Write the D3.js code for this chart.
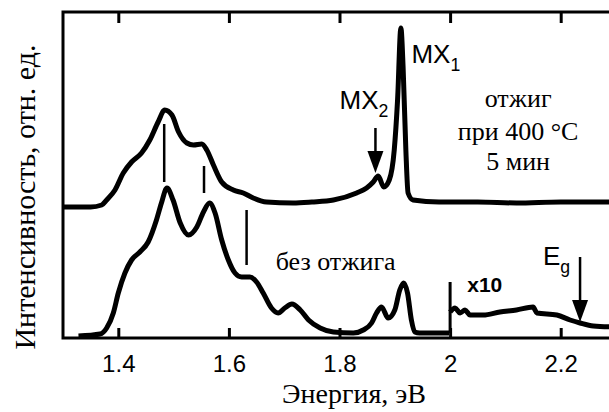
<!DOCTYPE html>
<html>
<head>
<meta charset="utf-8">
<script src="https://cdn.jsdelivr.net/npm/d3@7"></script>
<style>
  body { margin: 0; background: #fff; }
  svg { display: block; }
</style>
</head>
<body>
<div id="chart"></div>
<script>
// энергия (эВ) / интенсивность (отн. ед., со сдвигом для верхней кривой)
const annealed = [
  [1.30, 1.31], [1.35, 1.31], [1.37, 1.33], [1.379, 1.38], [1.394, 1.48],
  [1.409, 1.65], [1.424, 1.76], [1.442, 1.85], [1.457, 1.98], [1.472, 2.16],
  [1.484, 2.28], [1.497, 2.23], [1.509, 2.06], [1.524, 1.95], [1.536, 1.93],
  [1.551, 1.94], [1.560, 1.88], [1.572, 1.73], [1.587, 1.56], [1.608, 1.48],
  [1.626, 1.45], [1.644, 1.40], [1.668, 1.36], [1.716, 1.35], [1.75, 1.36],
  [1.789, 1.38], [1.831, 1.45], [1.849, 1.50], [1.861, 1.56], [1.870, 1.62],
  [1.880, 1.51], [1.890, 1.58], [1.899, 1.88], [1.905, 2.38], [1.911, 3.10],
  [1.915, 2.71], [1.920, 1.88], [1.924, 1.45], [1.933, 1.38], [1.98, 1.36],
  [2.05, 1.36], [2.12, 1.35], [2.20, 1.36], [2.30, 1.36]
];

const unannealed = [
  [1.328, 0.02], [1.367, 0.04], [1.379, 0.10], [1.391, 0.25], [1.400, 0.45],
  [1.412, 0.65], [1.424, 0.78], [1.439, 0.86], [1.454, 0.96], [1.469, 1.18],
  [1.478, 1.35], [1.488, 1.50], [1.499, 1.38], [1.512, 1.15], [1.527, 1.03],
  [1.542, 1.11], [1.554, 1.26], [1.565, 1.35], [1.575, 1.25], [1.587, 0.98],
  [1.599, 0.78], [1.611, 0.65], [1.623, 0.61], [1.638, 0.61], [1.650, 0.56],
  [1.662, 0.45], [1.677, 0.30], [1.689, 0.25], [1.701, 0.30], [1.714, 0.34],
  [1.729, 0.28], [1.744, 0.18], [1.765, 0.10], [1.789, 0.06], [1.825, 0.05],
  [1.843, 0.08], [1.858, 0.15], [1.867, 0.25], [1.876, 0.31], [1.888, 0.20],
  [1.900, 0.28], [1.909, 0.48], [1.916, 0.55], [1.923, 0.45], [1.930, 0.18],
  [1.936, 0.06], [1.945, 0.05], [1.998, 0.05]
];

// участок x10
const unannealedX10 = [
  [2.000, 0.26], [2.009, 0.30], [2.018, 0.25], [2.027, 0.28], [2.036, 0.23],
  [2.060, 0.23], [2.090, 0.26], [2.120, 0.28], [2.150, 0.31], [2.157, 0.25],
  [2.193, 0.23], [2.217, 0.18], [2.235, 0.15], [2.259, 0.12], [2.300, 0.11]
];

const xTicks = [1.4, 1.6, 1.8, 2.0, 2.2];
const markers = [[1.483, 2.14, 1.56], [1.555, 1.72, 1.45], [1.632, 1.28, 0.73]];
const arrows = [
  { e: 1.865, from: 2.10, to: 1.65 },
  { e: 2.235, from: 0.81, to: 0.16 }
];

const sans = "'Liberation Sans', Arial, sans-serif";
const serif = "'Liberation Serif', 'Times New Roman', Times, 'DejaVu Serif', serif";

const width = 609, height = 412;
const svg = d3.select("#chart").append("svg")
  .attr("width", width).attr("height", height);

const x = d3.scaleLinear().domain([1.3, 2.3]).range([63, 616]);
const y = d3.scaleLinear().domain([0, 3.26]).range([338, 12]);

const line = d3.line()
  .x(d => x(d[0])).y(d => y(d[1]))
  .curve(d3.curveMonotoneX);

// рамка
svg.append("rect")
  .attr("x", x(1.3)).attr("y", y(3.26))
  .attr("width", x(2.3) - x(1.3)).attr("height", y(0) - y(3.26))
  .attr("fill", "none").attr("stroke", "#000").attr("stroke-width", 3);

const xAxis = svg.append("g")
  .attr("transform", `translate(0,${y(0)})`)
  .call(d3.axisBottom(x).tickValues(xTicks).tickSizeInner(-10).tickSizeOuter(0)
    .tickPadding(17).tickFormat(d => d === 2 ? "2" : d3.format(".1f")(d)));
xAxis.select(".domain").remove();
xAxis.selectAll("line").attr("stroke-width", 3);
xAxis.selectAll("text")
  .style("font-family", sans)
  .style("font-size", "24px").attr("fill", "#000");

const xTop = svg.append("g")
  .attr("transform", `translate(0,${y(3.26)})`)
  .call(d3.axisTop(x).tickValues(xTicks).tickSizeInner(-11).tickSizeOuter(0).tickFormat(""));
xTop.select(".domain").remove();
xTop.selectAll("line").attr("stroke-width", 3);

// кривые
const curves = svg.append("g")
  .attr("fill", "none").attr("stroke", "#000")
  .attr("stroke-width", 5).attr("stroke-linejoin", "round");
curves.append("path").attr("d", line(annealed));
curves.append("path").attr("d", line(unannealed));
curves.append("path").attr("d", line(unannealedX10));

// разделитель x10
svg.append("line")
  .attr("x1", x(2.0)).attr("x2", x(2.0))
  .attr("y1", y(0.05)).attr("y2", y(0.56))
  .attr("stroke", "#000").attr("stroke-width", 3);

// вертикальные метки
svg.append("g").selectAll("line")
  .data(markers).join("line")
  .attr("x1", d => x(d[0])).attr("x2", d => x(d[0]))
  .attr("y1", d => y(d[1])).attr("y2", d => y(d[2]))
  .attr("stroke", "#000").attr("stroke-width", 2.5);

// стрелки
const ar = svg.append("g").selectAll("g").data(arrows).join("g");
ar.append("line")
  .attr("x1", d => x(d.e)).attr("x2", d => x(d.e))
  .attr("y1", d => y(d.from)).attr("y2", d => y(d.to) - 18)
  .attr("stroke", "#000").attr("stroke-width", 2.5);
ar.append("path")
  .attr("d", d => {
    const cx = x(d.e), ty = y(d.to);
    return `M${cx - 8},${ty - 22}L${cx + 8},${ty - 22}L${cx},${ty}Z`;
  })
  .attr("fill", "#000");

function subLabel(px, py, main, sub, size) {
  const t = svg.append("text")
    .attr("x", px).attr("y", py)
    .style("font-family", sans).style("font-size", size + "px").attr("fill", "#000");
  t.append("tspan").text(main);
  t.append("tspan").style("font-size", (size * 0.68) + "px").attr("dy", size * 0.3).text(sub);
}
subLabel(x(1.8), y(2.29), "MX", "2", 26);
subLabel(x(1.93), y(2.75), "MX", "1", 26);
subLabel(x(2.168), y(0.73), "E", "g", 26);

svg.append("text")
  .attr("x", x(2.031)).attr("y", y(0.46))
  .style("font-family", sans).style("font-size", "21px").style("font-weight", "bold")
  .attr("fill", "#000")
  .text("x10");

const notes = [
  ["отжиг", 2.123, 2.31],
  ["при 400 °С", 2.123, 1.98],
  ["5 мин", 2.123, 1.68],
  ["без отжига", 1.793, 0.68]
];
svg.append("g").selectAll("text")
  .data(notes).join("text")
  .attr("x", d => x(d[1])).attr("y", d => y(d[2]))
  .attr("text-anchor", "middle")
  .style("font-family", serif).style("font-size", "26px").attr("fill", "#000")
  .text(d => d[0]);

svg.append("text")
  .attr("x", 354).attr("y", 403)
  .attr("text-anchor", "middle")
  .style("font-family", serif).style("font-size", "28px").attr("fill", "#000")
  .text("Энергия, эВ");

svg.append("text")
  .attr("transform", "translate(35,197) rotate(-90)")
  .attr("text-anchor", "middle")
  .style("font-family", serif).style("font-size", "30px").attr("fill", "#000")
  .text("Интенсивность, отн. ед.");
</script>
</body>
</html>
